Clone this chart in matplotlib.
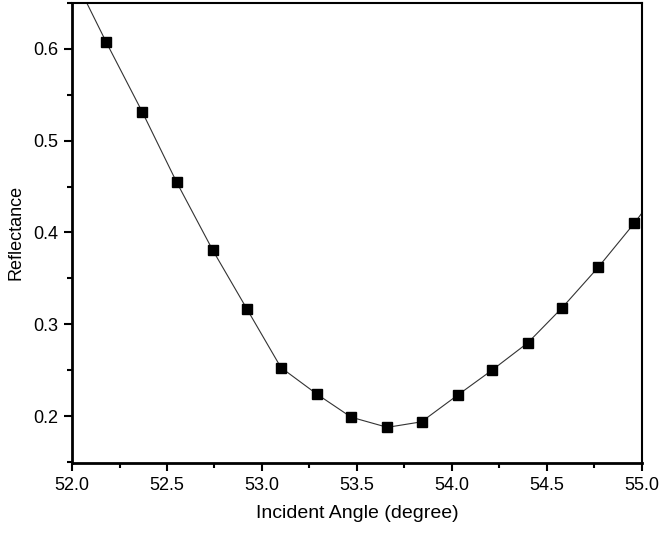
import matplotlib
matplotlib.use("Agg")
import matplotlib.pyplot as plt
from matplotlib.ticker import MultipleLocator

plt.rcParams["font.family"] = ["Liberation Sans", "DejaVu Sans"]

# measured points (incident angle in degree, reflectance)
angle = [52.18, 52.37, 52.55, 52.74, 52.92, 53.10, 53.29, 53.47,
         53.66, 53.84, 54.03, 54.21, 54.40, 54.58, 54.77, 54.96]
refl = [0.607, 0.531, 0.455, 0.381, 0.317, 0.253, 0.224, 0.199,
        0.188, 0.194, 0.223, 0.250, 0.280, 0.318, 0.362, 0.410]

# connecting line runs past the first and last marker to the frame
line_x = [52.0] + angle + [55.0]
line_y = [0.682] + refl + [0.421]

fig = plt.figure(figsize=(6.61, 5.33), dpi=100)
ax = fig.add_axes([0.109, 0.131, 0.862, 0.864])

ax.plot(line_x, line_y, color="#333333", linewidth=0.8)
ax.plot(angle, refl, linestyle="none", marker="s", markersize=7.5,
        color="black")

ax.set_xlim(52.0, 55.0)
ax.set_ylim(0.149, 0.65)
ax.xaxis.set_major_locator(MultipleLocator(0.5))
ax.xaxis.set_minor_locator(MultipleLocator(0.25))
ax.yaxis.set_major_locator(MultipleLocator(0.1))
ax.yaxis.set_minor_locator(MultipleLocator(0.05))
ax.xaxis.set_major_formatter(plt.FormatStrFormatter("%.1f"))
ax.yaxis.set_major_formatter(plt.FormatStrFormatter("%.1f"))

ax.tick_params(which="major", direction="out", length=6, width=1.5,
               labelsize=13, pad=4, top=False, right=False)
ax.tick_params(which="minor", direction="out", length=3.5, width=1.5,
               top=False, right=False)
for s in ["left", "bottom"]:
    ax.spines[s].set_linewidth(2)
for s in ["top", "right"]:
    ax.spines[s].set_linewidth(1.5)

ax.set_xlabel("Incident Angle (degree)", fontsize=14, labelpad=8)
ax.set_ylabel("Reflectance", fontsize=13, labelpad=6)

plt.savefig("out.png", dpi=100)
